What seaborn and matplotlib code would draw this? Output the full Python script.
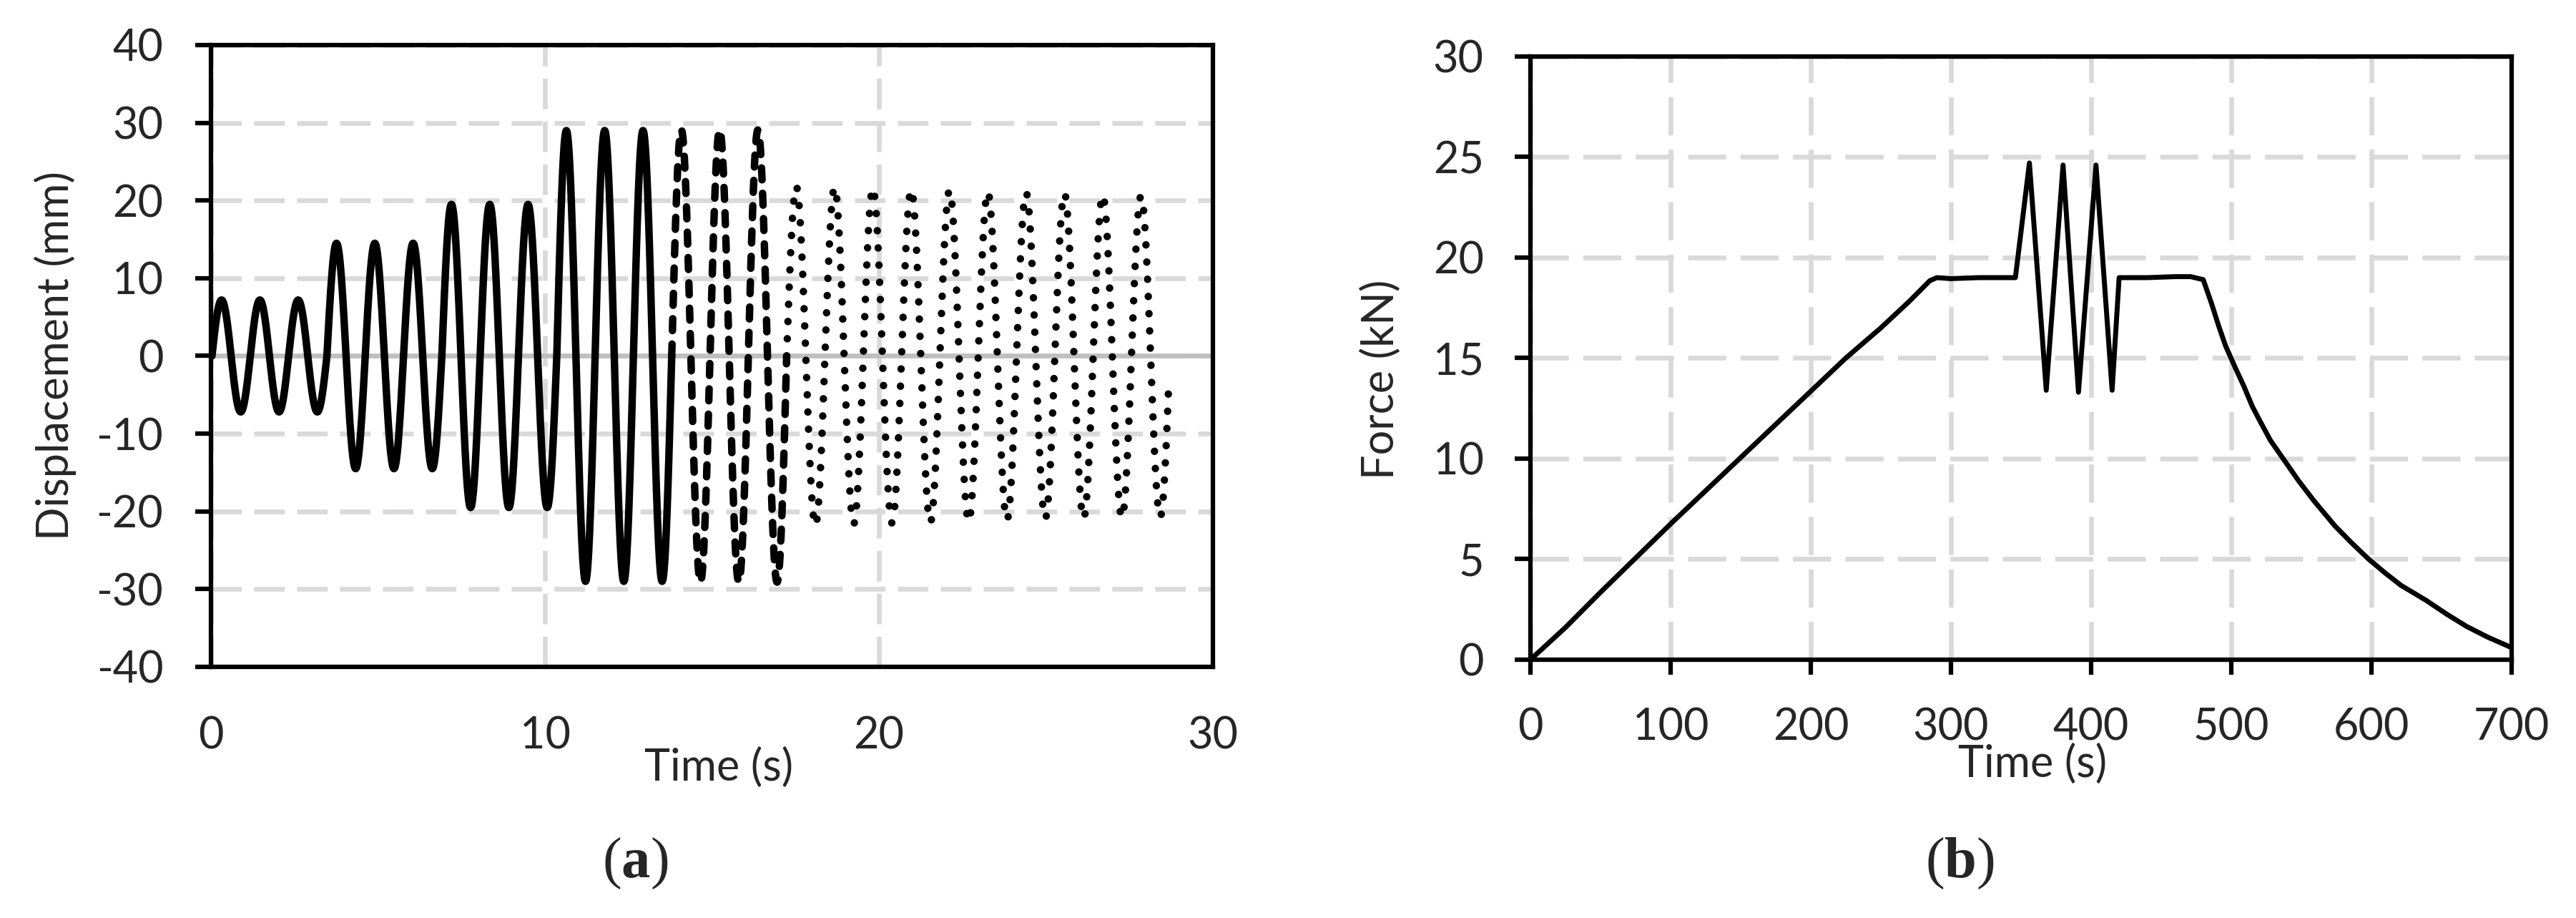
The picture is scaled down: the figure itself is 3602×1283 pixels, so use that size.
import numpy as np
import pandas as pd
import seaborn as sns
import matplotlib.pyplot as plt

# ---- (a) displacement protocol: one peak / trough per cycle ----
cycle_period = 1.147   # s
cycle_start = 0.03     # s
record_end = 28.68     # s
peak_mm = [7.2, 7.2, 7.2, 14.5, 14.5, 14.5, 19.5, 19.5, 19.5,
           29.0, 29.0, 29.0, 29.1, 29.1, 29.1,
           21.8, 21.7, 21.6, 21.4, 21.3, 21.1, 21.0, 20.9, 20.7, 20.6]
trough_mm = [-7.2, -7.2, -7.2, -14.5, -14.5, -14.5, -19.5, -19.5, -19.5,
             -29.0, -29.0, -29.0, -29.1, -29.1, -29.1,
             -21.8, -21.6, -21.5, -21.4, -21.3, -21.1, -20.9, -20.9, -20.8, -20.7]

# ---- (b) force history ----
time_b = [0, 25, 50, 75, 100, 125, 150, 175, 200, 225, 250, 270, 285, 290, 300, 320,
          346, 356, 368, 380, 391, 403.5, 415, 420, 440, 460, 471, 480,
          486, 491, 496, 503, 509, 515, 521, 528, 536, 548, 559, 574, 586, 598,
          610, 621, 639, 654, 668, 683, 700]
force_b = [0, 1.6, 3.35, 5.05, 6.75, 8.4, 10.05, 11.7, 13.35, 15.0, 16.5, 17.8, 18.85, 19.0, 18.95, 19.0,
           19.0, 24.7, 13.4, 24.6, 13.3, 24.6, 13.4, 19.0, 19.0, 19.05, 19.05, 18.9,
           17.7, 16.6, 15.6, 14.5, 13.6, 12.6, 11.8, 10.9, 10.1, 8.9, 7.9, 6.65, 5.8, 5.0,
           4.3, 3.7, 2.95, 2.25, 1.65, 1.12, 0.6]

# sine-shaped cycles built from the read peaks/troughs
rows = []
for k, (pk, tr) in enumerate(zip(peak_mm, trough_mm)):
    t0 = cycle_start + k * cycle_period
    ph = np.linspace(0, 1, 241)
    t = t0 + ph * cycle_period
    s = np.sin(2 * np.pi * ph)
    d = np.where(s >= 0, pk * s, -tr * s)
    keep = t <= record_end
    for ti, di in zip(t[keep], d[keep]):
        rows.append((ti, di, k))
df_a = pd.DataFrame(rows, columns=["time", "disp", "cycle"])
df_b = pd.DataFrame({"time": time_b, "force": force_b})

sns.set_theme(style="white")
plt.rcParams["font.family"] = ["Lato", "DejaVu Sans"]
plt.rcParams["axes.unicode_minus"] = False
plt.rcParams["mathtext.fontset"] = "custom"
plt.rcParams["mathtext.rm"] = "Liberation Serif"
plt.rcParams["mathtext.bf"] = "Liberation Serif:bold"

fig = plt.figure(figsize=(36.02, 12.83), dpi=100)
ax1 = fig.add_axes([0.0819, 0.2736, 0.3890, 0.6773])
ax2 = fig.add_axes([0.5941, 0.2814, 0.3809, 0.6571])

fs = 44
grid_col = "#d9d9d9"

# ---------- panel (a) ----------
ax1.axhline(0, color="#bfbfbf", lw=4.8, zorder=1.5)
segments = [(0, 12, "-"), (12, 15, (0, (1.6, 1.8))), (15, 25, (0, (0.01, 2.3)))]
for c0, c1, ls in segments:
    sub = df_a[(df_a["cycle"] >= c0) & (df_a["cycle"] < c1)]
    sns.lineplot(data=sub, x="time", y="disp", ax=ax1, color="black", lw=7.5,
                 linestyle=ls, dash_capstyle="round", solid_capstyle="round",
                 estimator=None, sort=False, zorder=3)
ax1.set_xlim(0, 30)
ax1.set_ylim(-40, 40)
ax1.set_xticks(range(0, 31, 10))
ax1.set_yticks(range(-40, 41, 10))
ax1.grid(True, color=grid_col, lw=4.8, linestyle=(0, (6.4, 2.6)), zorder=0)
ax1.tick_params(axis="y", which="major", left=True, length=16, width=4.5,
                pad=32, labelsize=fs, color="black")
ax1.tick_params(axis="x", which="major", bottom=False, length=0, pad=49, labelsize=fs)
ax1.set_xlabel("Time (s)", fontsize=fs)
ax1.set_ylabel("Displacement (mm)", fontsize=fs)
ax1.xaxis.set_label_coords(0.507, -0.162)
ax1.xaxis.label.set_va("center")
ax1.yaxis.set_label_coords(-0.155, 0.5)
ax1.yaxis.label.set_va("center")

# ---------- panel (b) ----------
sns.lineplot(data=df_b, x="time", y="force", ax=ax2, color="black", lw=5.0,
             estimator=None, sort=False, zorder=3)
ax2.set_xlim(0, 700)
ax2.set_ylim(0, 30)
ax2.set_xticks(range(0, 701, 100))
ax2.set_yticks(range(0, 31, 5))
ax2.grid(True, color=grid_col, lw=4.8, linestyle=(0, (8.0, 3.0)), zorder=0)
ax2.tick_params(axis="y", which="major", left=True, length=16, width=4.5,
                pad=31, labelsize=fs, color="black")
ax2.tick_params(axis="x", which="major", bottom=True, length=15, width=4.5,
                pad=33, labelsize=fs, color="black")
ax2.set_xlabel("Time (s)", fontsize=fs)
ax2.set_ylabel("Force (kN)", fontsize=fs)
ax2.xaxis.set_label_coords(0.512, -0.173)
ax2.xaxis.label.set_va("center")
ax2.yaxis.set_label_coords(-0.152, 0.465)
ax2.yaxis.label.set_va("center")

for ax in (ax1, ax2):
    for sp in ax.spines.values():
        sp.set_visible(True)
        sp.set_color("black")
        sp.set_linewidth(4.5)
        sp.set_zorder(4)

fig.text(888 / 3602, 1 - 1207 / 1283, r"($\mathbf{a}$)", ha="center", va="center",
         fontsize=58, family="Liberation Serif")
fig.text(2740 / 3602, 1 - 1207 / 1283, r"($\mathbf{b}$)", ha="center", va="center",
         fontsize=58, family="Liberation Serif")

fig.savefig("out.png", dpi=100, facecolor="white")
